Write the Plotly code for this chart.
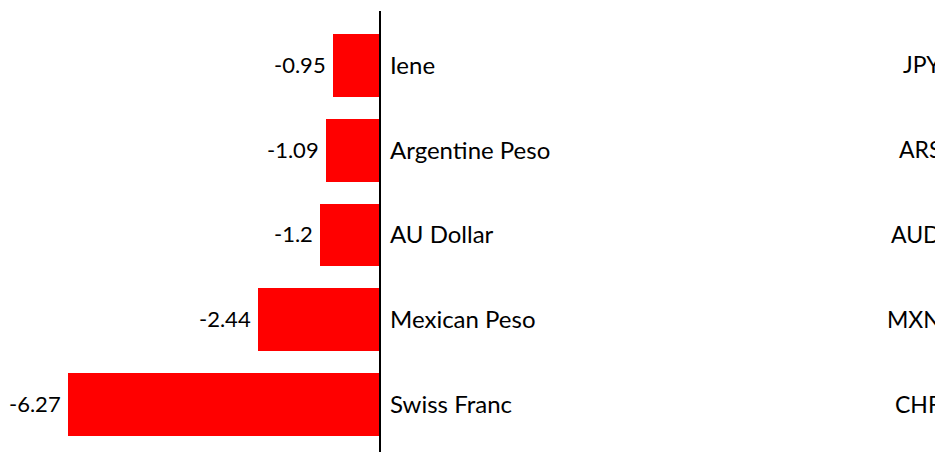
import plotly.graph_objects as go

names = ['Iene', 'Argentine Peso', 'AU Dollar', 'Mexican Peso', 'Swiss Franc']
codes = ['JPY', 'ARS', 'AUD', 'MXN', 'CHF']
values = [-0.95, -1.09, -1.2, -2.44, -6.27]

FONT = 'Lato, Carlito, Calibri, sans-serif'
W, H = 935, 452

fig = go.Figure()
fig.add_trace(go.Bar(
    y=list(range(len(names))), x=values, orientation='h',
    marker=dict(color='#ff0000', line=dict(width=0)),
    width=0.74,
    hoverinfo='skip',
))

for i, (n, c, v) in enumerate(zip(names, codes, values)):
    fig.add_annotation(x=v, y=i, xref='x', yref='y', text=str(v), showarrow=False,
                       xanchor='right', xshift=-5, yshift=1,
                       font=dict(family=FONT, size=22, color='black'))
    fig.add_annotation(x=0, y=i, xref='x', yref='y', text=n, showarrow=False,
                       xanchor='left', xshift=8, yshift=1,
                       font=dict(family=FONT, size=24, color='black'))
    fig.add_annotation(x=1, y=i, xref='paper', yref='y', text=c, showarrow=False,
                       xanchor='right', xshift=8, yshift=1,
                       font=dict(family=FONT, size=23, color='black'))

# zero line
fig.add_shape(type='line', x0=0, x1=0, xref='x', y0=0, y1=1, yref='paper',
              line=dict(color='black', width=2))

px_per_unit = 49.84
zero_px = 380
fig.update_xaxes(range=[-zero_px / px_per_unit, (W - zero_px) / px_per_unit],
                 visible=False, showgrid=False, zeroline=False)
fig.update_yaxes(range=[4.559, -0.641], visible=False, showgrid=False, zeroline=False)
fig.update_layout(
    width=W, height=H,
    margin=dict(l=0, r=0, t=11, b=0),
    plot_bgcolor='white', paper_bgcolor='white',
    showlegend=False, bargap=0,
)
fig.write_html('out.html', config={'displayModeBar': False},
               post_script="document.body.style.margin='0';document.body.style.overflow='hidden';")
